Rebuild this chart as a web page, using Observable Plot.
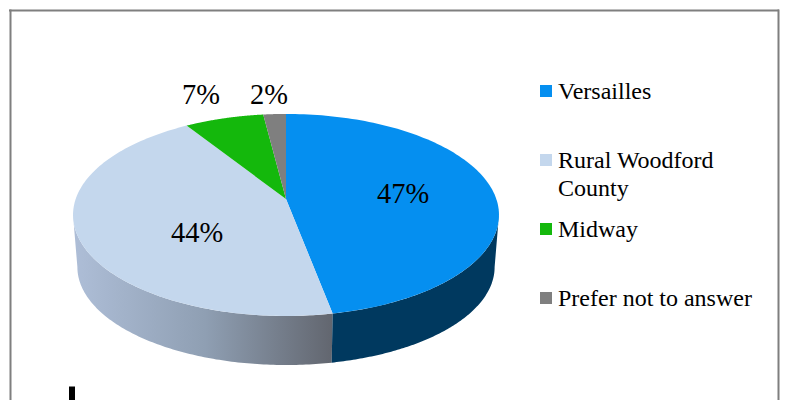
<!DOCTYPE html>
<html>
<head>
<meta charset="utf-8">
<script src="https://cdn.jsdelivr.net/npm/d3@7"></script>
<script src="https://cdn.jsdelivr.net/npm/@observablehq/plot@0.6"></script>
<style>
html,body{margin:0;padding:0;background:#fff;overflow:hidden}
svg{display:block}
</style>
</head>
<body>
<div id="chart"></div>
<script>
const categories = ["Versailles", "Rural Woodford County", "Midway", "Prefer not to answer"];
const shares = [47, 44, 7, 2];
const colors = ["#058ff0", "#c4d7ed", "#14b80c", "#7f7f7f"];
const legendLines = [["Versailles"], ["Rural Woodford", "County"], ["Midway"], ["Prefer not to answer"]];
const serif = "Liberation Serif";

// Perspective pie geometry
const apex = {x: 286, y: 199}, k = 0.158;
const topRing = {ax: 210.3, by: 98.5, y0: 199};
const botRing = {ax: 206, by: 95.5, y0: 251.6};
const rim = (ring, deg) => {
  const t = deg * Math.PI / 180, w = 1 + k * Math.cos(t);
  return {x: apex.x + ring.ax * Math.sin(t) / w, y: ring.y0 - ring.by * Math.cos(t) / w};
};
const arc = (ring, a, b) => d3.range(0, 121).map(i => rim(ring, a + (b - a) * i / 120));

let cum = 0;
const slices = categories.map((name, i) => {
  const a0 = cum * 3.6; cum += shares[i];
  return {name, share: shares[i], a0, a1: cum * 3.6};
});
const faces = slices.flatMap(s => [apex, ...arc(topRing, s.a0, s.a1)].map(p => ({...p, name: s.name})));
const edgeDeg = Math.acos(-k) * 180 / Math.PI;
const wall = (a, b) => [...arc(topRing, a, b), ...arc(botRing, a, b).reverse()];
const wallBlue = wall(edgeDeg, slices[0].a1);
const wallRural = wall(slices[1].a0, 360 - edgeDeg);

const labelPos = [[403, 193.5], [197, 233], [201, 95], [269, 95]];
const labels = slices.map((s, i) => ({t: s.share + "%", x: labelPos[i][0], y: labelPos[i][1]}));
const legendY = [91, 160, 229, 298];
const legendRows = legendLines.flatMap((ls, i) => ls.map((t, j) => ({t, y: legendY[i] + j * 28})));
const legendKeys = categories.map((name, i) => ({name, y: legendY[i]}));

const gradient = () => {
  const svg = d3.create("svg:defs");
  const g = svg.append("linearGradient").attr("id", "ruralWall").attr("gradientUnits", "userSpaceOnUse")
    .attr("x1", 77).attr("x2", 332).attr("y1", 0).attr("y2", 0);
  g.append("stop").attr("offset", 0).attr("stop-color", "#adbdd6");
  g.append("stop").attr("offset", 0.5).attr("stop-color", "#8f9fb3");
  g.append("stop").attr("offset", 1).attr("stop-color", "#62666f");
  return svg.node();
};

const chart = Plot.plot({
  width: 786, height: 400, margin: 0,
  x: {domain: [0.5, 786.5], range: [0, 786], axis: null},
  y: {domain: [0.5, 400.5], range: [0, 400], axis: null},
  color: {domain: categories, range: colors},
  style: {background: "#fff"},
  marks: [
    gradient,
    Plot.ruleY([10.5], {x1: 9.5, x2: 779.5, stroke: "#7f7f7f", strokeWidth: 2}),
    Plot.ruleX([10.5], {y1: 10, y2: 401, stroke: "#7f7f7f", strokeWidth: 2}),
    Plot.ruleX([778.5], {y1: 10, y2: 401, stroke: "#7f7f7f", strokeWidth: 2}),
    Plot.line(wallRural, {x: "x", y: "y", fill: "url(#ruralWall)", stroke: "none"}),
    Plot.line(wallBlue, {x: "x", y: "y", fill: "#00395f", stroke: "none"}),
    Plot.line(faces, {x: "x", y: "y", z: "name", fill: "name", stroke: "none"}),
    Plot.text(labels, {x: "x", y: "y", text: "t", fontFamily: serif, fontSize: 28.5, fill: "#000", textAnchor: "middle"}),
    Plot.dot(legendKeys, {x: 546, y: "y", symbol: "square", r: 6.8, fill: "name", stroke: "none"}),
    Plot.text(legendRows, {x: 558, y: "y", text: "t", fontFamily: serif, fontSize: 24, fill: "#000", textAnchor: "start"}),
    Plot.ruleX([72], {y1: 387, y2: 401, stroke: "#000", strokeWidth: 6})
  ]
});
document.getElementById("chart").append(chart);
</script>
</body>
</html>
